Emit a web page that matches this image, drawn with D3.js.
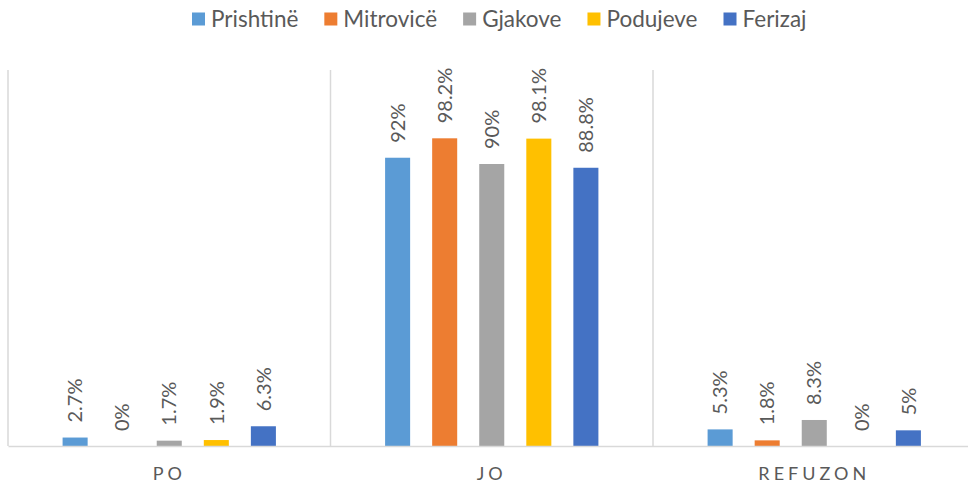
<!DOCTYPE html>
<html>
<head>
<meta charset="utf-8">
<script src="https://cdn.jsdelivr.net/npm/d3@7"></script>
<style>
  html, body { margin: 0; padding: 0; background: #fff; }
  svg { display: block; }
  text { font-family: Lato, "Open Sans", sans-serif; fill: #595959; }
</style>
</head>
<body>
<svg id="chart" width="968" height="484"></svg>
<script>
// Survey answers per city, percent
const categories = ["PO", "JO", "REFUZON"];
const seriesNames = ["Prishtinë", "Mitrovicë", "Gjakove", "Podujeve", "Ferizaj"];
const seriesColors = ["#5B9BD5", "#ED7D31", "#A5A5A5", "#FFC000", "#4472C4"];
const prishtine = [2.7, 92, 5.3];
const mitrovice = [0, 98.2, 1.8];
const gjakove   = [1.7, 90, 8.3];
const podujeve  = [1.9, 98.1, 0];
const ferizaj   = [6.3, 88.8, 5];

const seriesValues = [prishtine, mitrovice, gjakove, podujeve, ferizaj];

const svg = d3.select("#chart");
const plot = { left: 8, right: 975.5, top: 70, bottom: 446 };

const x0 = d3.scaleBand()
  .domain(categories)
  .range([plot.left, plot.right])
  .paddingInner(0).paddingOuter(0);

const x1 = d3.scaleBand()
  .domain(seriesNames)
  .range([0, x0.bandwidth()])
  .paddingInner(22 / 47)
  .paddingOuter(1.16);

const y = d3.scaleLinear().domain([0, 120]).range([plot.bottom, plot.top]);

// category separators
const grid = svg.append("g");
const bounds = categories.map(c => x0(c)).concat([plot.right]);
grid.selectAll("line.sep").data(bounds).join("line")
  .attr("x1", d => d).attr("x2", d => d)
  .attr("y1", plot.top).attr("y2", plot.bottom)
  .attr("stroke", "#d9d9d9").attr("stroke-width", 1.5);

// bars
const groups = svg.append("g").selectAll("g")
  .data(categories).join("g")
  .attr("transform", c => `translate(${x0(c)},0)`);

const rows = (c, ci) => seriesNames.map((s, si) => ({
  series: s, value: seriesValues[si][ci], color: seriesColors[si]
}));

groups.each(function (c, ci) {
  const g = d3.select(this);
  const data = rows(c, ci);
  g.selectAll("rect").data(data).join("rect")
    .attr("x", d => x1(d.series))
    .attr("width", x1.bandwidth())
    .attr("y", d => y(d.value))
    .attr("height", d => y(0) - y(d.value))
    .attr("fill", d => d.color);
  g.selectAll("text.lbl").data(data).join("text")
    .attr("class", "lbl")
    .attr("transform", d => `translate(${x1(d.series) + x1.bandwidth() / 2},${y(d.value) - 15}) rotate(-90)`)
    .attr("dy", "0.36em")
    .attr("text-anchor", "start")
    .style("font-size", "20px")
    .text(d => d.value + "%");
});

// baseline axis
const xAxis = svg.append("g")
  .attr("transform", `translate(0,${plot.bottom})`)
  .call(d3.axisBottom(x0).tickSize(0).tickPadding(0));
xAxis.select(".domain").attr("stroke", "#d9d9d9").attr("stroke-width", 1.5);
xAxis.selectAll(".tick text")
  .attr("dy", 0).attr("y", 34)
  .style("font-family", "Lato, sans-serif")
  .style("font-size", "18px")
  .style("letter-spacing", "4px")
  .attr("fill", "#595959");

// legend
const legend = svg.append("g");
let lx = 192;
seriesNames.forEach((name, i) => {
  legend.append("rect")
    .attr("x", lx).attr("y", 12.5).attr("width", 13).attr("height", 13)
    .attr("fill", seriesColors[i]);
  const t = legend.append("text")
    .attr("x", lx + 19).attr("y", 26.5)
    .style("font-size", "22.5px")
    .text(name);
  lx += 19 + t.node().getComputedTextLength() + 26;
});
</script>
</body>
</html>
